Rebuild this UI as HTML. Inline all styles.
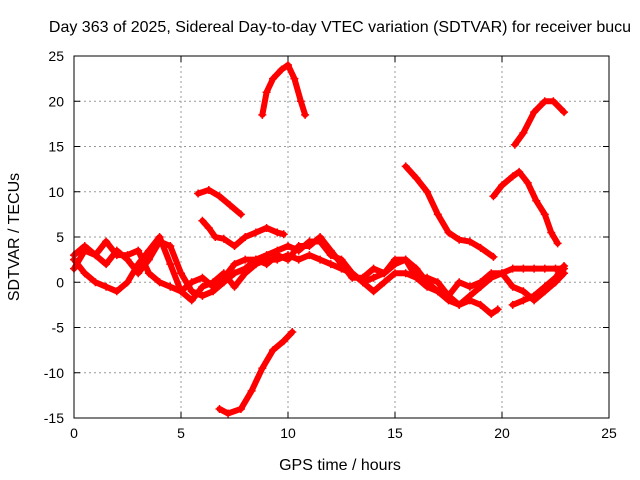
<!DOCTYPE html>
<html><head><meta charset="utf-8"><style>
body{margin:0;background:#fff}
svg{display:block;font-family:"Liberation Sans",sans-serif}
</style></head><body>
<svg id="chart" width="640" height="480">
<rect width="640" height="480" fill="#fff"/>
<text x="340" y="32" font-size="16" text-anchor="middle">Day 363 of 2025, Sidereal Day-to-day VTEC variation (SDTVAR) for receiver bucu</text>
<text x="340" y="470" font-size="16" text-anchor="middle">GPS time / hours</text>
<text transform="translate(19,237) rotate(-90)" font-size="16" text-anchor="middle">SDTVAR / TECUs</text>
<g id="grid"></g><g id="ticks"></g><g id="series"></g>
<rect x="74" y="56" width="535" height="362" fill="none" stroke="#000" stroke-width="1"/>
</svg>
<script>
const xTicks=[0,5,10,15,20,25];
const yTicks=[-15,-10,-5,0,5,10,15,20,25];
const trackA=[[8.8,18.5],[9,21],[9.3,22.5],[9.7,23.5],[10,24],[10.3,22.5],[10.6,20],[10.8,18.5]];
const trackB=[[6.8,-14],[7.2,-14.5],[7.8,-14],[8.3,-12],[8.8,-9.5],[9.3,-7.5],[9.8,-6.5],[10.2,-5.5]];
const trackC=[[15.5,12.8],[16,11.5],[16.5,10],[17,7.5],[17.5,5.5],[18,4.7],[18.5,4.5],[19,3.8],[19.6,2.8]];
const trackD=[[19.6,9.5],[20,10.7],[20.5,11.7],[20.8,12.2],[21.2,11],[21.6,9],[22,7.5],[22.3,5.5],[22.6,4.3]];
const trackE=[[20.6,15.2],[21,16.5],[21.5,18.8],[22,20],[22.4,20],[22.9,18.8]];
const trackF=[[5.8,9.8],[6.3,10.2],[6.8,9.5],[7.3,8.5],[7.8,7.5]];
const trackG=[[6.0,6.8],[6.3,6],[6.6,5],[7,4.8],[7.5,4],[8,5],[8.5,5.5],[9,6],[9.5,5.5],[9.8,5.3]];
const trackH1=[[0,1.5],[0.5,3.5],[1,3],[1.5,2],[2,3.5],[2.5,2.5],[3,1],[3.5,2.5],[4,4.5],[4.5,4],[5,1],[5.5,-1],[6,-1.5],[6.5,-1],[7,0],[7.5,1],[8,1.5],[8.5,2.5],[9,3],[9.5,3.5],[10,4],[10.5,3.5],[11,4.5],[11.5,4.5],[12,3],[12.5,2.5],[13,1],[13.5,0],[14,0.5],[14.5,1],[15,2],[15.5,2.5],[16,1.5],[16.5,0],[17,-1],[17.5,-1.5],[18,-2.5],[18.5,-2],[19,-2.5],[19.5,-3.5],[19.8,-3]];
const trackH2=[[0,2.5],[0.5,1],[1,0],[1.5,-0.5],[2,-1],[2.5,0],[3,2],[3.5,3.5],[4,5],[4.5,2],[5,-1],[5.5,-2],[6,-0.5],[6.5,0],[7,1],[7.5,-0.5],[8,1],[8.5,2],[9,2.5],[9.5,2.5],[10,3],[10.5,2.5],[11,3],[11.5,2.5],[12,2],[12.5,1.5],[13,1],[13.5,0],[14,-1],[14.5,0],[15,1],[15.5,1],[16,0.5],[16.5,-0.5],[17,-1],[17.5,-2],[18,-2.5],[18.5,-1.5],[19,-0.5],[19.5,0.5],[20,1],[20.5,1.5],[21,1.5],[21.5,1.5],[22,1.5],[22.5,1.5],[22.9,1.5]];
const trackH3=[[0,3],[0.5,4],[1,3],[1.5,4.5],[2,3],[2.5,3],[3,3.5],[3.5,1],[4,0],[4.5,-0.5],[5,-1],[5.5,0],[6,0.5],[6.5,-0.5],[7,0.5],[7.5,2],[8,2.5],[8.5,2.5],[9,2],[9.5,3],[10,2.5],[10.5,4],[11,4],[11.5,5],[12,3.5],[12.5,2],[13,0.5],[13.5,0.5],[14,1.5],[14.5,1],[15,2.5],[15.5,2.5],[16,0.5],[16.5,0.5],[17,0],[17.5,-1.5],[18,0],[18.5,-0.5],[19,0],[19.5,1],[20,1],[20.5,-0.5],[21,-1],[21.5,-2],[22,-1],[22.5,0],[22.9,1]];
const trackH4=[[20.5,-2.5],[21,-2],[21.5,-1.5],[22,-0.5],[22.5,0.5],[22.9,1.8]];
const tracks=[trackA,trackB,trackC,trackD,trackE,trackF,trackG,trackH1,trackH2,trackH3,trackH4];

const X0=74,X1=609,Y0=418,Y1=56;
const sx=v=>X0+(v-0)/(25-0)*(X1-X0);
const sy=v=>Y0-(v+15)/(40)*(Y0-Y1);
const NS="http://www.w3.org/2000/svg";
const grid=document.getElementById('grid'),ticks=document.getElementById('ticks'),ser=document.getElementById('series');
function mk(tag,attrs,parent){const e=document.createElementNS(NS,tag);for(const k in attrs)e.setAttribute(k,attrs[k]);parent.appendChild(e);return e;}
xTicks.forEach(t=>{const x=sx(t);
 if(t>0&&t<25){const g=mk('line',{x1:x,x2:x,y1:Y1,y2:Y0,stroke:'#999','stroke-dasharray':'2,3'},grid);
 
 }
 mk('line',{x1:x,x2:x,y1:Y0,y2:Y0-6,stroke:'#000'},ticks);
 mk('line',{x1:x,x2:x,y1:Y1,y2:Y1+6,stroke:'#000'},ticks);
 const l=mk('text',{x:x,y:Y0+20,'font-size':14,'text-anchor':'middle'},ticks);l.textContent=t;
 
 
});
yTicks.forEach(t=>{const y=sy(t);
 if(t>-15&&t<25){const g=mk('line',{x1:X0,x2:X1,y1:y,y2:y,stroke:'#999','stroke-dasharray':'2,3'},grid);
 
 }
 mk('line',{x1:X0,x2:X0+6,y1:y,y2:y,stroke:'#000'},ticks);
 mk('line',{x1:X1,x2:X1-6,y1:y,y2:y,stroke:'#000'},ticks);
 const l=mk('text',{x:X0-10,y:y+5,'font-size':14,'text-anchor':'end'},ticks);l.textContent=t;
 
 
});
tracks.forEach((tr,i)=>{
 const g=mk('g',{},ser);
 
 
 mk('polyline',{points:tr.map(p=>sx(p[0])+','+sy(p[1])).join(' '),fill:'none',stroke:'#f00','stroke-width':6,'stroke-linejoin':'round','stroke-linecap':'round'},g);
 tr.forEach(p=>{const x=sx(p[0]),y=sy(p[1]);
  mk('path',{d:`M${x-4},${y}H${x+4}M${x},${y-4}V${y+4}`,stroke:'#f00','stroke-width':1.5},g);});
});
</script>
</body></html>
